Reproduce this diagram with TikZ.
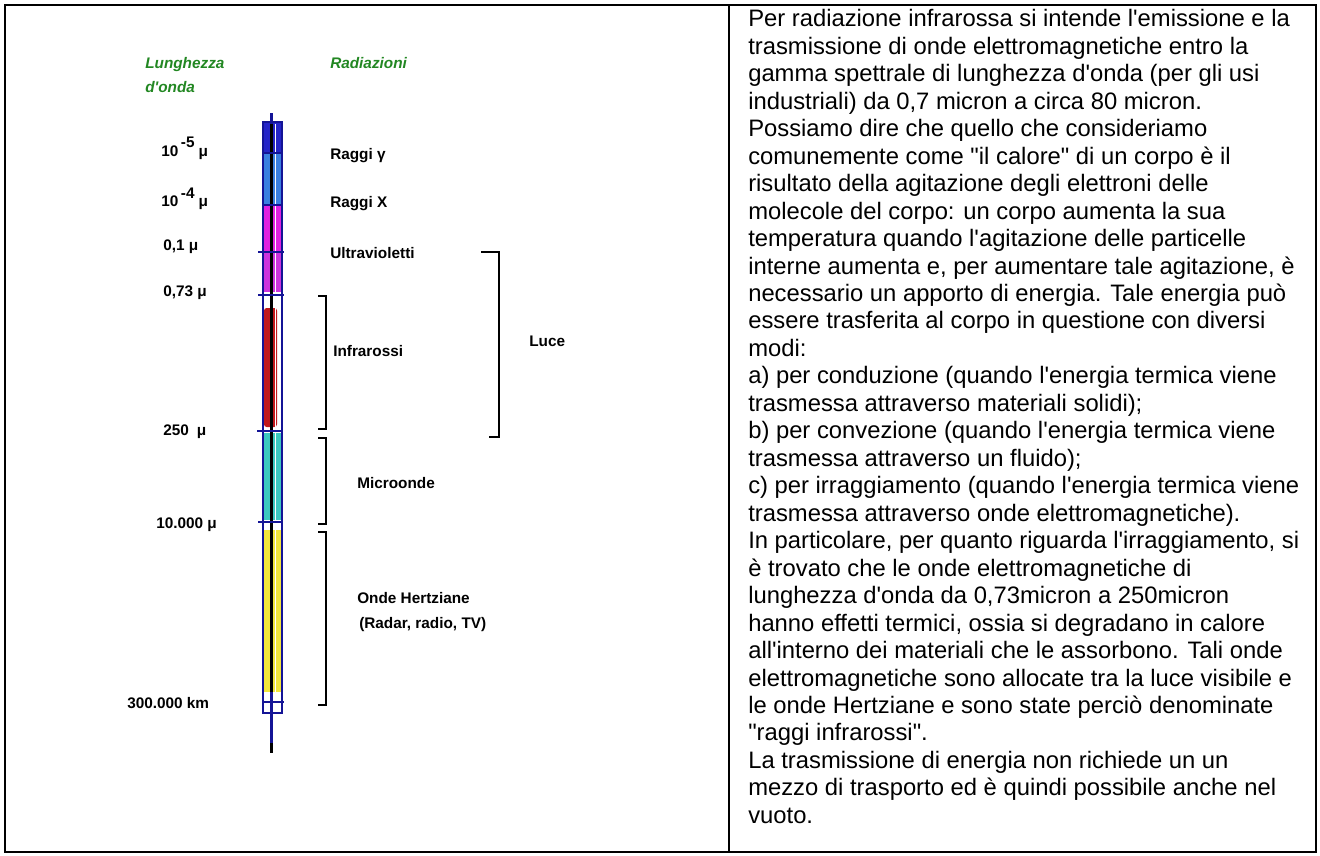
\documentclass[tikz,border=0pt]{standalone}
\usepackage{fontspec}
\newfontfamily\lib{Liberation Sans}
\definecolor{lgreen}{RGB}{34,135,34}
\definecolor{bandA}{RGB}{36,36,200}
\definecolor{bandB}{RGB}{58,127,224}
\definecolor{bandC}{RGB}{224,32,224}
\definecolor{bandD}{RGB}{204,51,221}
\definecolor{bandE}{RGB}{192,24,28}
\definecolor{bandF}{RGB}{60,200,192}
\definecolor{bandG}{RGB}{242,230,60}
\definecolor{navy}{RGB}{20,20,150}
\newcommand{\rtxt}{\lib\fontsize{17.85}{20.6}\selectfont}
\newcommand{\lbf}{\lib\bfseries\fontsize{11.5}{13.5}\selectfont}
\begin{document}
\begin{tikzpicture}[x=0.75pt,y=-0.75pt,
  lbl/.style={font=\lbf, anchor=base west, inner sep=0},
  grn/.style={font=\lbf\itshape, text=lgreen, anchor=base west, inner sep=0},
  tickmark/.style={line width=1.5pt, draw=navy},
  brk/.style={line width=1pt, draw=black}]
\useasboundingbox (0,0) rectangle (1320,856);
% frame
\draw[line width=1.5pt] (5,5) rectangle (1316,852);
\draw[line width=1pt] (729,5) -- (729,852);
% right text
\node[anchor=north west, inner sep=0, align=left, font=\rtxt] (body) at (748,9.3) {%
Per radiazione infrarossa si intende l'emissione e la\\
trasmissione di onde elettromagnetiche entro la\\
gamma spettrale di lunghezza d'onda (per gli usi\\
industriali) da 0,7 micron a circa 80 micron.\\
Possiamo dire che quello che consideriamo\\
comunemente come "il calore" di un corpo è il\\
risultato della agitazione degli elettroni delle\\
molecole del corpo: un corpo aumenta la sua\\
temperatura quando l'agitazione delle particelle\\
interne aumenta e, per aumentare tale agitazione, è\\
necessario un apporto di energia. Tale energia può\\
essere trasferita al corpo in questione con diversi\\
modi:\\
a) per conduzione (quando l'energia termica viene\\
trasmessa attraverso materiali solidi);\\
b) per convezione (quando l'energia termica viene\\
trasmessa attraverso un fluido);\\
c) per irraggiamento (quando l'energia termica viene\\
trasmessa attraverso onde elettromagnetiche).\\
In particolare, per quanto riguarda l'irraggiamento, si\\
è trovato che le onde elettromagnetiche di\\
lunghezza d'onda da 0,73micron a 250micron\\
hanno effetti termici, ossia si degradano in calore\\
all'interno dei materiali che le assorbono. Tali onde\\
elettromagnetiche sono allocate tra la luce visibile e\\
le onde Hertziane e sono state perciò denominate\\
"raggi infrarossi".\\
La trasmissione di energia non richiede un un\\
mezzo di trasporto ed è quindi possibile anche nel\\
vuoto.};
% headers
\node[grn] (hl1) at (145,69) {Lunghezza};
\node[grn] (hl2) at (145,93) {d'onda};
\node[grn] (hr) at (330,69) {Radiazioni};
% bar bands
\fill[bandA] (264,122) rectangle (281,153);
\fill[bandB] (264,153) rectangle (281,205);
\fill[bandC] (264,205) rectangle (281,252);
\fill[bandD] (264,252) rectangle (281,292);
\fill[bandE, rounded corners=2pt] (264,308) rectangle (277,427);
\fill[bandF] (264,433) rectangle (281,520);
\fill[bandG] (264,530) rectangle (281,692);
\draw[white, line width=1.4pt] (275.5,124) -- (275.5,692);
\draw[navy, line width=2.2pt] (271.5,113) -- (271.5,743);
\draw[black, line width=2.2pt] (271.5,124) -- (271.5,692);
\draw[black, line width=2.2pt] (271.5,743) -- (271.5,753);
\draw[navy, line width=0.8pt] (263,122) rectangle (282,713);
% ticks
\draw[tickmark] (262,153) -- (283,153);
\draw[tickmark] (262,205) -- (283,205);
\draw[tickmark] (258,252) -- (284,252);
\draw[tickmark] (258,295) -- (284,295);
\draw[tickmark] (257,431) -- (281,431);
\draw[tickmark] (258,522) -- (283,522);
\draw[tickmark] (262,702) -- (284,702);
% wavelength labels
\node[lbl] (w1) at (161,156) {10\hspace{2pt}\raisebox{6pt}{-5}\hspace{3pt}μ};
\node[lbl] (w2) at (161,206) {10\hspace{2pt}\raisebox{6pt}{-4}\hspace{3pt}μ};
\node[lbl] (w3) at (163,250) {0,1 μ};
\node[lbl] (w4) at (163,296) {0,73 μ};
\node[lbl] (w5) at (163,435) {250\hspace{6pt}μ};
\node[lbl] (w6) at (156,528) {10.000 μ};
\node[lbl] (w7) at (127,708) {300.000 km};
% radiation labels
\node[lbl] (r1) at (330,159) {Raggi γ};
\node[lbl] (r2) at (330,207) {Raggi X};
\node[lbl] (r3) at (330,258) {Ultravioletti};
\node[lbl] (r4) at (333,356) {Infrarossi};
\node[lbl] (r5) at (529,346) {Luce};
\node[lbl] (r6) at (357,488) {Microonde};
\node[lbl] (r7) at (357,603) {Onde Hertziane};
\node[lbl] (r8) at (359,628) {(Radar, radio, TV)};
% brackets
\draw[brk] (318,296) -- (326,296) -- (326,429) -- (318,429);
\draw[brk] (318,438) -- (326,438) -- (326,524) -- (318,524);
\draw[brk] (318,532) -- (326,532) -- (326,705) -- (318,705);
\draw[brk] (481,252) -- (499,252) -- (499,437) -- (489,437);
\end{tikzpicture}
\end{document}
